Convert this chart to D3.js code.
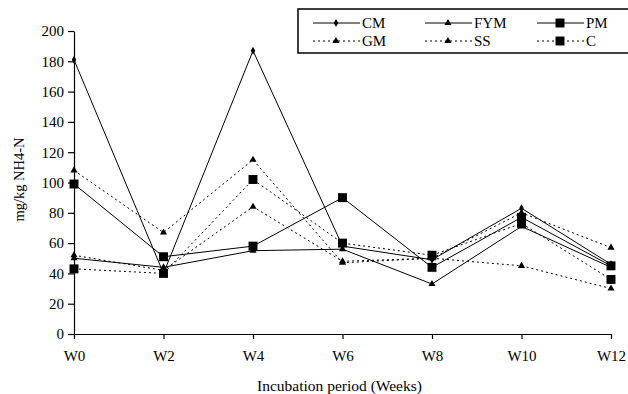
<!DOCTYPE html>
<html>
<head>
<meta charset="utf-8">
<script src="https://cdn.jsdelivr.net/npm/d3@7"></script>
<style>
    body { margin: 0; background: #fff; }
</style>
</head>
<body>
<div id="chart"></div>
<script>
const FONT = "'Liberation Serif', 'Times New Roman', serif";

// weeks on the x axis
const weeks = ["W0", "W2", "W4", "W6", "W8", "W10", "W12"];
const yTicks = [0, 20, 40, 60, 80, 100, 120, 140, 160, 180, 200];

// NH4-N values (mg/kg) per treatment
const cmValues = [181, 40, 187, 58, 49, 83, 46];
const fymValues = [50, 44, 55, 56, 33, 71, 44];
const pmValues = [99, 51, 58, 90, 44, 77, 45];
const gmValues = [108, 67, 115, 47, 50, 80, 57];
const ssValues = [52, 42, 84, 48, 50, 45, 30];
const cValues = [43, 40, 102, 60, 52, 73, 36];

const seriesNames = ["CM", "FYM", "PM", "GM", "SS", "C"];
const seriesMarkers = ["diamond", "triangle", "square", "triangle", "triangle", "square"];
const seriesDashed = [false, false, false, true, true, true];

const series = seriesNames.map((name, i) => ({
    name: name,
    values: [cmValues, fymValues, pmValues, gmValues, ssValues, cValues][i],
    marker: seriesMarkers[i],
    dashed: seriesDashed[i]
}));

const W = 628, H = 394;
const margin = { top: 31, right: 17, bottom: 60, left: 74 };
const width = W - margin.left - margin.right;
const height = H - margin.top - margin.bottom;

const svg = d3.select("#chart").append("svg")
    .attr("width", W)
    .attr("height", H);

const g = svg.append("g")
    .attr("transform", "translate(" + margin.left + "," + margin.top + ")");

// Scales
const x = d3.scalePoint().domain(weeks).range([0, width]);
const y = d3.scaleLinear().domain([0, 200]).range([height, 0]);

// Axes
const xAxis = d3.axisBottom(x).tickSize(5).tickSizeOuter(0).tickPadding(11);
const yAxis = d3.axisLeft(y).tickValues(yTicks).tickSize(6).tickSizeOuter(0).tickPadding(4);

const xAxisGroup = g.append("g")
    .attr("transform", "translate(0," + height + ")")
    .call(xAxis);

const yAxisGroup = g.append("g").call(yAxis);

g.selectAll(".tick text")
    .style("font-family", FONT)
    .style("font-size", "15px")
    .attr("fill", "#000");

g.selectAll(".domain, .tick line").attr("stroke", "#000").attr("stroke-width", 1.2);

// Axis titles
g.append("text")
    .attr("x", x("W6") - 3)
    .attr("y", height + 57)
    .attr("text-anchor", "middle")
    .style("font-family", FONT)
    .style("font-size", "15.5px")
    .text("Incubation period (Weeks)");

g.append("text")
    .attr("transform", "rotate(-90)")
    .attr("x", -(y(100) - 3))
    .attr("y", -50)
    .attr("text-anchor", "middle")
    .style("font-family", FONT)
    .style("font-size", "14.5px")
    .text("mg/kg NH4-N");

// marker shapes
const symbolFor = {
    diamond: d3.symbol().type(d3.symbolDiamond).size(18),
    triangle: d3.symbol().type(d3.symbolTriangle).size(22),
    square: d3.symbol().type(d3.symbolSquare).size(80)
};

const line = d3.line()
    .x((d, i) => x(weeks[i]))
    .y(d => y(d));

// Lines and markers
const seriesGroups = g.selectAll(".series")
    .data(series)
    .enter()
    .append("g")
    .attr("class", "series");

seriesGroups.append("path")
    .attr("d", d => line(d.values))
    .attr("fill", "none")
    .attr("stroke", "#000")
    .attr("stroke-width", 1)
    .attr("stroke-dasharray", d => d.dashed ? "2,3" : null);

seriesGroups.selectAll(".marker")
    .data(d => d.values.map((v, i) => ({ v: v, i: i, marker: d.marker })))
    .enter()
    .append("path")
    .attr("class", "marker")
    .attr("transform", d => "translate(" + x(weeks[d.i]) + "," + y(d.v) + ")")
    .attr("d", d => symbolFor[d.marker]())
    .attr("fill", "#000");

// Legend
const legend = svg.append("g").attr("transform", "translate(298,9)");
legend.append("rect")
    .attr("width", 340)
    .attr("height", 44)
    .attr("fill", "#fff")
    .attr("stroke", "#000")
    .attr("stroke-width", 1.5);

const colX = [15, 127, 239];
const rowY = [14, 32];

const items = legend.selectAll(".item")
    .data(series)
    .enter()
    .append("g")
    .attr("transform", (d, i) => "translate(" + colX[i % 3] + "," + rowY[Math.floor(i / 3)] + ")");

items.append("line")
    .attr("x1", 0).attr("x2", 47)
    .attr("stroke", "#000")
    .attr("stroke-width", 1)
    .attr("stroke-dasharray", d => d.dashed ? "2,3" : null);

items.append("path")
    .attr("transform", "translate(23,0)")
    .attr("d", d => symbolFor[d.marker]())
    .attr("fill", "#000");

items.append("text")
    .attr("x", 49)
    .attr("dy", "0.35em")
    .style("font-family", FONT)
    .style("font-size", "15px")
    .text(d => d.name);
</script>
</body>
</html>
